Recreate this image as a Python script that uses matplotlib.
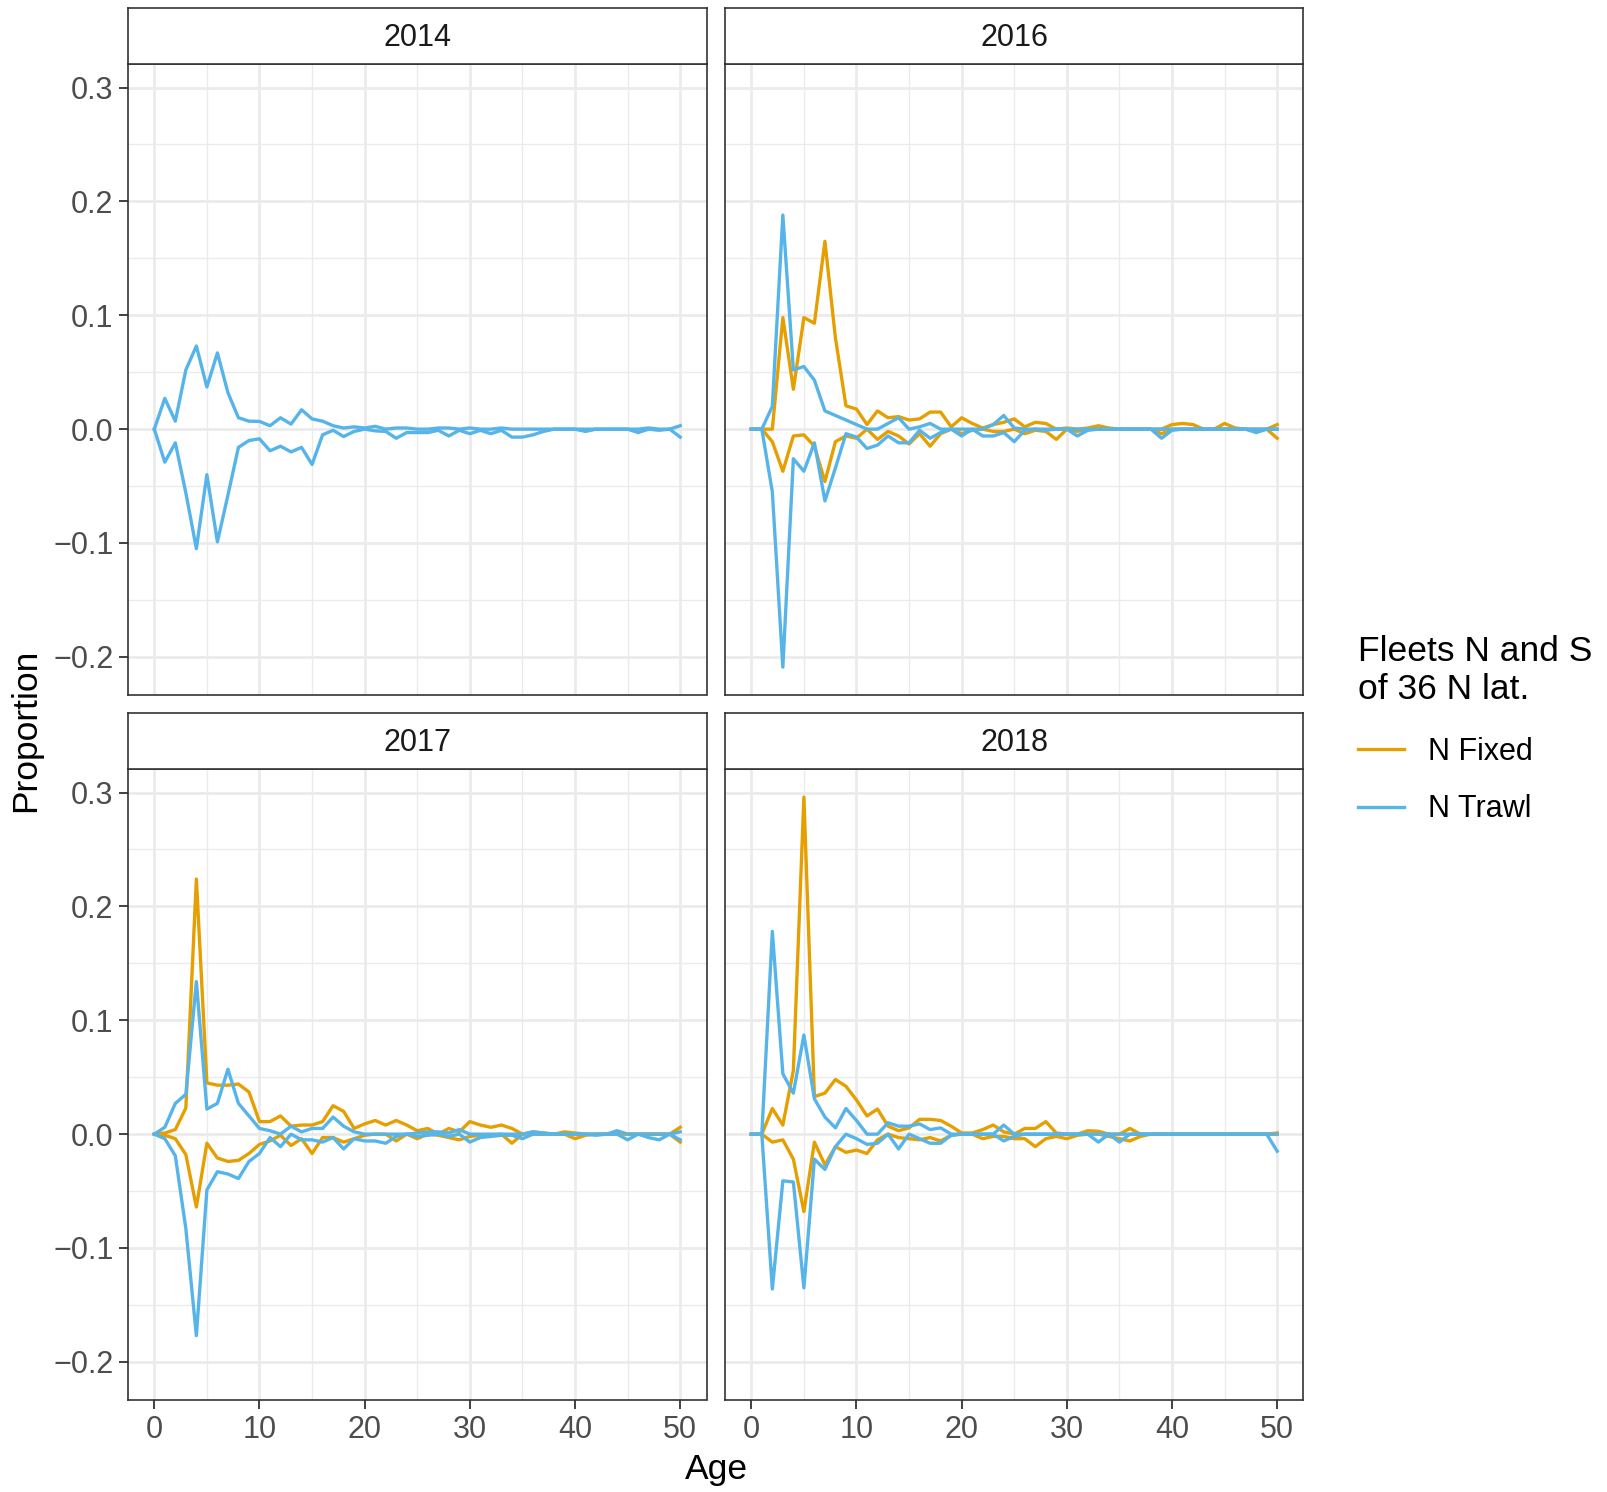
import matplotlib
matplotlib.use('Agg')
import matplotlib.pyplot as plt
from matplotlib.lines import Line2D
from matplotlib.ticker import MultipleLocator, FuncFormatter

plt.rcParams['font.family'] = ['Liberation Sans', 'DejaVu Sans']

ages = list(range(51))
years = ['2014', '2016', '2017', '2018']
fleets = ['N Fixed', 'N Trawl']
colors = {'N Fixed': '#E69F00', 'N Trawl': '#56B4E9'}

# 2014 (trawl only)
trawl_2014_pos = [0, 0.027, 0.007, 0.052, 0.073, 0.037, 0.067, 0.032, 0.010, 0.007,
                  0.0068, 0.003, 0.010, 0.0044, 0.017, 0.009, 0.007, 0.003, 0.001, 0.002,
                  0.001, 0.0025, 0.000, 0.001, 0.001, 0.000, 0.000, 0.001, 0.001, 0.000,
                  0.001, 0.000, 0.000, 0.001, 0.000, 0.000, 0, 0, 0, 0,
                  0, 0, 0, 0, 0, 0, 0, 0.001, 0, 0, 0.003]
trawl_2014_neg = [0, -0.029, -0.012, -0.056, -0.105, -0.040, -0.099, -0.058, -0.016, -0.010,
                  -0.0085, -0.019, -0.015, -0.020, -0.016, -0.031, -0.005, -0.001, -0.0065, -0.002,
                  0.000, -0.0015, -0.002, -0.008, -0.003, -0.003, -0.003, -0.001, -0.006, -0.001,
                  -0.004, -0.001, -0.004, -0.001, -0.007, -0.007, -0.005, -0.002, 0, 0,
                  0, -0.002, 0, 0, 0, 0, -0.003, 0, -0.001, 0, -0.007]

# 2016
fixed_2016_pos = [0, 0, 0, 0.098, 0.035, 0.098, 0.093, 0.165, 0.080, 0.0205,
                  0.0176, 0.004, 0.016, 0.010, 0.011, 0.008, 0.009, 0.015, 0.015, 0.002,
                  0.010, 0.005, 0.001, 0.004, 0.006, 0.009, 0.002, 0.006, 0.005, 0.000,
                  0.001, 0.000, 0.001, 0.003, 0.001, 0, 0, 0, 0, 0,
                  0.004, 0.005, 0.004, 0, 0, 0.005, 0.001, 0, 0, 0, 0.004]
fixed_2016_neg = [0, 0, -0.011, -0.037, -0.006, -0.005, -0.015, -0.046, -0.011, -0.006,
                  -0.008, 0, -0.009, -0.002, -0.006, -0.013, -0.004, -0.015, -0.004, 0,
                  -0.004, -0.001, 0, -0.002, -0.002, 0, -0.004, -0.001, -0.002, -0.009,
                  0, -0.002, 0, 0, 0, 0, 0, 0, 0, -0.004,
                  0, 0, 0, 0, 0, 0, 0, 0, -0.002, 0, -0.008]
trawl_2016_pos = [0, 0, 0.020, 0.188, 0.052, 0.055, 0.043, 0.016, 0.012, 0.008,
                  0.004, 0, 0, 0.005, 0.010, 0, 0.002, 0.005, 0, 0,
                  0, 0, 0, 0.004, 0.012, 0.001, 0, 0, 0, 0,
                  0, 0, 0, 0, 0, 0, 0, 0, 0, 0,
                  0, 0, 0, 0, 0, 0, 0, 0, 0, 0, 0]
trawl_2016_neg = [0, 0, -0.055, -0.209, -0.026, -0.037, -0.012, -0.063, -0.034, -0.004,
                  -0.007, -0.017, -0.014, -0.006, -0.012, -0.012, -0.001, -0.008, -0.003, 0,
                  -0.006, 0, -0.006, -0.006, -0.003, -0.011, -0.001, 0, -0.001, 0,
                  0, -0.006, -0.001, 0, 0, 0, 0, 0, 0, -0.008,
                  -0.001, 0, 0, 0, 0, 0, 0, 0, -0.003, 0, 0]

# 2017
fixed_2017_pos = [0, 0.001, 0.004, 0.023, 0.224, 0.045, 0.043, 0.043, 0.044, 0.037,
                  0.011, 0.011, 0.016, 0.007, 0.008, 0.008, 0.011, 0.025, 0.020, 0.005,
                  0.009, 0.012, 0.008, 0.012, 0.008, 0.003, 0.005, 0, 0.005, 0.002,
                  0.011, 0.008, 0.006, 0.008, 0.005, 0, 0.002, 0.001, 0, 0.002,
                  0.001, 0, 0, 0, 0.001, 0, 0, 0, 0, 0, 0.006]
fixed_2017_neg = [0, -0.001, -0.004, -0.018, -0.064, -0.008, -0.021, -0.024, -0.023, -0.017,
                  -0.009, -0.006, -0.001, -0.010, -0.004, -0.017, -0.003, -0.003, -0.007, -0.004,
                  -0.001, 0, 0, -0.006, 0, -0.004, 0, -0.001, -0.003, -0.005,
                  -0.002, -0.001, -0.001, 0, -0.008, 0, 0, 0, 0, 0,
                  -0.004, -0.001, 0, 0, 0, 0, 0, 0, 0, 0, -0.007]
trawl_2017_pos = [0, 0.006, 0.027, 0.035, 0.134, 0.022, 0.027, 0.057, 0.027, 0.016,
                  0.005, 0.003, 0.000, 0.007, 0.002, 0.005, 0.005, 0.015, 0.007, 0.002,
                  0, 0, 0, 0, 0, 0.001, 0.002, 0.002, 0.001, 0.004,
                  0, 0, 0, 0, 0, 0, 0.002, 0.001, 0, 0,
                  0, 0, 0, 0, 0.003, 0, 0, 0, 0, 0, 0.002]
trawl_2017_neg = [0, -0.004, -0.019, -0.083, -0.177, -0.049, -0.033, -0.035, -0.039, -0.024,
                  -0.017, -0.003, -0.011, 0, -0.005, -0.005, -0.007, -0.003, -0.013, -0.004,
                  -0.006, -0.006, -0.008, -0.002, 0, -0.002, -0.001, 0, -0.002, 0,
                  -0.007, -0.003, -0.002, -0.001, -0.001, -0.004, 0, 0, 0, 0,
                  0, 0, -0.001, 0, 0, -0.005, 0, -0.003, -0.005, 0, -0.005]

# 2018
fixed_2018_pos = [0, 0, 0.0225, 0.008, 0.056, 0.296, 0.033, 0.036, 0.048, 0.042,
                  0.030, 0.016, 0.022, 0.007, 0.003, 0.0055, 0.013, 0.013, 0.012, 0.007,
                  0.001, 0.001, 0.004, 0.008, 0.002, 0, 0.005, 0.005, 0.011, 0.001,
                  0, 0, 0.003, 0.0025, 0, 0, 0.005, 0, 0, 0,
                  0, 0, 0, 0, 0, 0, 0, 0, 0, 0, 0.001]
fixed_2018_neg = [0, 0, -0.007, -0.005, -0.022, -0.068, -0.007, -0.027, -0.011, -0.016,
                  -0.014, -0.017, -0.005, 0, -0.003, -0.004, -0.005, -0.003, -0.006, -0.001,
                  0, 0, -0.004, -0.002, -0.002, -0.004, -0.004, -0.011, -0.004, -0.002,
                  -0.004, -0.001, 0, 0, -0.002, -0.004, -0.006, -0.002, 0, 0,
                  0, 0, 0, 0, 0, 0, 0, 0, 0, 0, 0]
trawl_2018_pos = [0, 0, 0.178, 0.053, 0.036, 0.087, 0.031, 0.015, 0.0055, 0.0225,
                  0.012, 0, 0, 0.010, 0.007, 0.007, 0.009, 0.004, 0.0055, 0,
                  0, 0, 0, 0, 0.008, 0, 0, 0, 0, 0,
                  0, 0, 0, 0, 0, 0, 0, 0, 0, 0,
                  0, 0, 0, 0, 0, 0, 0, 0, 0, 0, 0]
trawl_2018_neg = [0, 0, -0.136, -0.041, -0.042, -0.135, -0.022, -0.031, -0.011, 0,
                  -0.004, -0.009, -0.008, 0, -0.013, 0, -0.004, -0.008, -0.008, -0.001,
                  0, 0, 0, 0, -0.006, -0.002, 0, 0, 0, 0,
                  0, 0, 0, -0.007, 0, -0.007, 0, 0, 0, 0,
                  0, 0, 0, 0, 0, 0, 0, 0, 0, 0, -0.015]

series = {
    '2014': {'N Trawl': [trawl_2014_pos, trawl_2014_neg]},
    '2016': {'N Fixed': [fixed_2016_pos, fixed_2016_neg],
             'N Trawl': [trawl_2016_pos, trawl_2016_neg]},
    '2017': {'N Fixed': [fixed_2017_pos, fixed_2017_neg],
             'N Trawl': [trawl_2017_pos, trawl_2017_neg]},
    '2018': {'N Fixed': [fixed_2018_pos, fixed_2018_neg],
             'N Trawl': [trawl_2018_pos, trawl_2018_neg]},
}

W, H = 1608, 1492
fig = plt.figure(figsize=(W / 100, H / 100), dpi=100)

col_left = [128, 725]
col_w = 578.5
row_top = [64, 769]
row_h = 631
strip_h = 56

def fmt(v, pos):
    s = '%.1f' % v
    if s == '-0.0':
        s = '0.0'
    return s.replace('-', '\u2212')

dark = '#333333'
lw_data = 2.4
for i, yr in enumerate(years):
    r, c = divmod(i, 2)
    x0 = col_left[c] / W
    y0 = 1 - (row_top[r] + row_h) / H
    ax = fig.add_axes([x0, y0, col_w / W, row_h / H])
    ax.set_xlim(-2.5, 52.5)
    ax.set_ylim(-0.2335, 0.3207)
    ax.xaxis.set_major_locator(MultipleLocator(10))
    ax.xaxis.set_minor_locator(MultipleLocator(5))
    ax.yaxis.set_major_locator(MultipleLocator(0.1))
    ax.yaxis.set_minor_locator(MultipleLocator(0.05))
    ax.yaxis.set_major_formatter(FuncFormatter(fmt))
    ax.grid(which='major', color='#EBEBEB', lw=2.0)
    ax.grid(which='minor', color='#EBEBEB', lw=1.0)
    ax.set_axisbelow(True)
    for sp in ax.spines.values():
        sp.set_color(dark)
        sp.set_linewidth(1.2)
    ax.tick_params(which='minor', length=0)
    ax.tick_params(which='major', length=6.5, width=1.3, color=dark,
                   labelsize=22, labelcolor='#4D4D4D', pad=4)
    if c == 1:
        ax.tick_params(axis='y', which='major', length=0, labelleft=False)
    if r == 0:
        ax.tick_params(axis='x', which='major', length=0, labelbottom=False)

    for fl in fleets:
        if fl not in series[yr]:
            continue
        for vals in series[yr][fl]:
            ax.plot(ages, vals, color=colors[fl], lw=lw_data, solid_joinstyle='round')

    # facet strip
    sax = fig.add_axes([x0, 1 - row_top[r] / H, col_w / W, strip_h / H])
    sax.set_xticks([])
    sax.set_yticks([])
    for sp in sax.spines.values():
        sp.set_color(dark)
        sp.set_linewidth(1.2)
    sax.text(0.5, 0.53, yr, ha='center', va='center_baseline', fontsize=22,
             color='#1A1A1A', transform=sax.transAxes)

fig.text(26 / W, 1 - 730 / H, 'Proportion', rotation=90, ha='center',
         va='center', fontsize=25.5)
fig.text(717 / W, 1 - 1470 / H, 'Age', ha='center', va='center', fontsize=25.5)

handles = [Line2D([], [], color=colors[f], lw=lw_data) for f in fleets]
leg = fig.legend(handles, fleets, title='Fleets N and S\nof 36 N lat.',
                 loc='upper left', bbox_to_anchor=(1346 / W, 1 - 623 / H),
                 frameon=False, fontsize=22, title_fontsize=25.5,
                 handlelength=1.5, handletextpad=0.8, labelspacing=0.9,
                 alignment='left', borderaxespad=0)
leg._legend_box.sep = 22

fig.savefig('out.png', dpi=100)
